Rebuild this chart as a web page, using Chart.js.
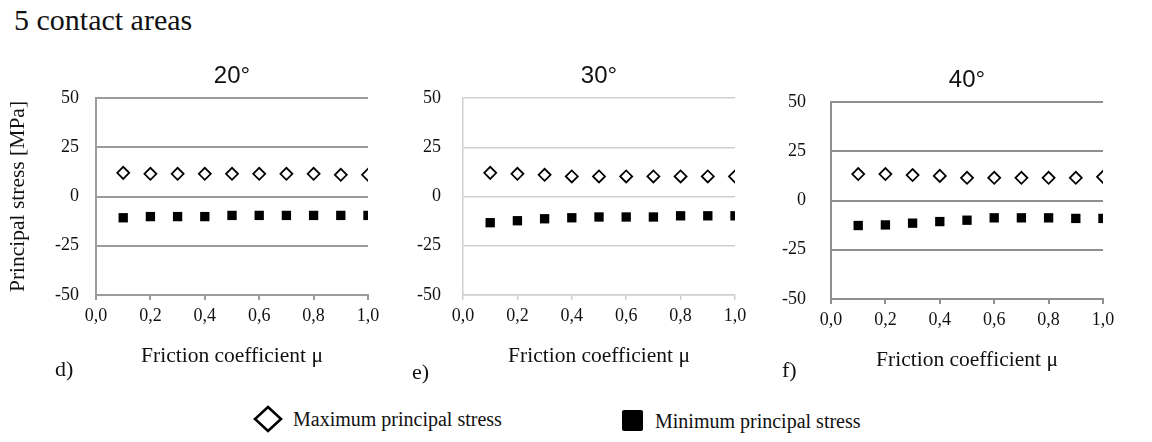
<!DOCTYPE html>
<html>
<head>
<meta charset="utf-8">
<script src="https://cdn.jsdelivr.net/npm/chart.js@4.4.1/dist/chart.umd.min.js"></script>
<style>
  html, body { margin: 0; padding: 0; background: #fff; }
  body { width: 1152px; height: 442px; position: relative; overflow: hidden; font-family: "Liberation Serif", serif; color: #111; }
  .box { position: absolute; }
  .txt { position: absolute; white-space: nowrap; line-height: 1; }
</style>
</head>
<body>
<div class="txt" style="left:14px;top:5px;font-size:30px;">5 contact areas</div>

<div class="box" style="left:0px;top:60px;width:390px;height:320px;"><canvas id="c1" width="390" height="320"></canvas></div>
<div class="box" style="left:400px;top:60px;width:360px;height:320px;"><canvas id="c2" width="360" height="320"></canvas></div>
<div class="box" style="left:770px;top:64px;width:360px;height:320px;"><canvas id="c3" width="360" height="320"></canvas></div>

<div class="txt" style="left:55px;top:358px;font-size:22px;">d)</div>
<div class="txt" style="left:412px;top:361px;font-size:22px;">e)</div>
<div class="txt" style="left:782px;top:359px;font-size:22px;">f)</div>

<div class="txt" style="left:253px;top:405px;font-size:20px;display:flex;align-items:center;">
  <svg width="30" height="28" style="margin-right:10px"><polygon points="15,2 28,14 15,26 2,14" fill="#fff" stroke="#000" stroke-width="2.6"/></svg>
  <span>Maximum principal stress</span>
</div>
<div class="txt" style="left:622px;top:410px;font-size:20px;display:flex;align-items:center;">
  <svg width="21" height="21" style="margin-right:12px"><rect x="0" y="0" width="21" height="21" rx="2" fill="#000"/></svg>
  <span>Minimum principal stress</span>
</div>

<script>
const mu = [0.1, 0.2, 0.3, 0.4, 0.5, 0.6, 0.7, 0.8, 0.9, 1.0];
const max20 = [12.0, 11.5, 11.5, 11.5, 11.5, 11.5, 11.5, 11.5, 11.0, 11.0];
const min20 = [-10.8, -10.2, -10.2, -10.2, -9.6, -9.6, -9.6, -9.6, -9.6, -9.6];
const max30 = [12.0, 11.5, 11.0, 10.2, 10.2, 10.2, 10.2, 10.2, 10.2, 10.2];
const min30 = [-13.3, -12.3, -11.3, -10.8, -10.4, -10.4, -10.4, -9.8, -9.8, -9.8];
const max40 = [13.4, 13.4, 12.9, 12.5, 11.5, 11.5, 11.5, 11.5, 11.5, 12.0];
const min40 = [-12.7, -12.4, -11.5, -10.7, -10.0, -8.8, -8.8, -8.8, -9.1, -9.1];
const panelTitles = ['20°', '30°', '40°'];
const seriesNames = ['Maximum principal stress', 'Minimum principal stress'];
const xTitle = 'Friction coefficient μ';
const yTitle = 'Principal stress [MPa]';

Chart.defaults.font.family = '"Liberation Serif", serif';
Chart.defaults.color = '#111';

function pts(ys) { return mu.map((x, i) => ({ x: x, y: ys[i] })); }

function makeChart(id, maxs, mins, title, cfg) {
  const ctx = document.getElementById(id);
  return new Chart(ctx, {
    type: 'scatter',
    data: {
      datasets: [
        { label: seriesNames[0], data: pts(maxs), pointStyle: 'rectRot', pointRadius: 6,
          pointBackgroundColor: '#fff', pointBorderColor: '#000', pointBorderWidth: 1.8 },
        { label: seriesNames[1], data: pts(mins), pointStyle: 'rect', pointRadius: 6.6,
          pointBackgroundColor: '#000', pointBorderColor: '#000', pointBorderWidth: 0 }
      ]
    },
    options: {
      responsive: false,
      animation: false,
      devicePixelRatio: 1,
      layout: { padding: { left: 0, right: cfg.right, top: 0, bottom: 0 } },
      plugins: {
        legend: { display: false },
        tooltip: { enabled: false },
        title: {
          display: true, text: title, fullSize: false,
          font: { family: '"Liberation Sans", Arial, sans-serif', size: 24, weight: 'normal' },
          color: '#111',
          padding: { top: 2, bottom: 7.2 }
        }
      },
      scales: {
        x: {
          type: 'linear', min: 0, max: 1,
          afterFit: s => { s.height = 85; },
          ticks: { stepSize: 0.2, padding: 5, font: { size: 18 }, color: '#111',
                   callback: v => Number(v).toFixed(1).replace('.', ',') },
          grid: { display: true, drawOnChartArea: false, drawTicks: true, tickLength: 5,
                  color: cfg.grid, lineWidth: cfg.lw },
          border: { display: true, color: cfg.grid, width: cfg.lw },
          title: { display: true, text: xTitle, font: { size: 21.5 }, color: '#111',
                   padding: { top: 0, bottom: 11 } }
        },
        y: {
          min: -50, max: 50,
          afterFit: s => { s.width = cfg.yw; },
          ticks: { stepSize: 25, padding: cfg.tp, font: { size: 18 }, color: '#111' },
          grid: { color: cfg.grid, lineWidth: cfg.lw, drawTicks: false },
          border: { display: true, color: cfg.grid, width: cfg.lw },
          title: { display: cfg.showY, text: yTitle, font: { size: 21.5 }, color: '#111',
                   padding: { top: 5, bottom: 0 } }
        }
      }
    }
  });
}

makeChart('c1', max20, min20, panelTitles[0], { right: 22, yw: 96, tp: 17, grid: '#9c9c9c', lw: 2, showY: true });
makeChart('c2', max30, min30, panelTitles[1], { right: 25, yw: 63, tp: 22, grid: '#cfcfcf', lw: 1.5, showY: false });
makeChart('c3', max40, min40, panelTitles[2], { right: 27, yw: 61, tp: 25, grid: '#8f8f8f', lw: 2, showY: false });
</script>
</body>
</html>
